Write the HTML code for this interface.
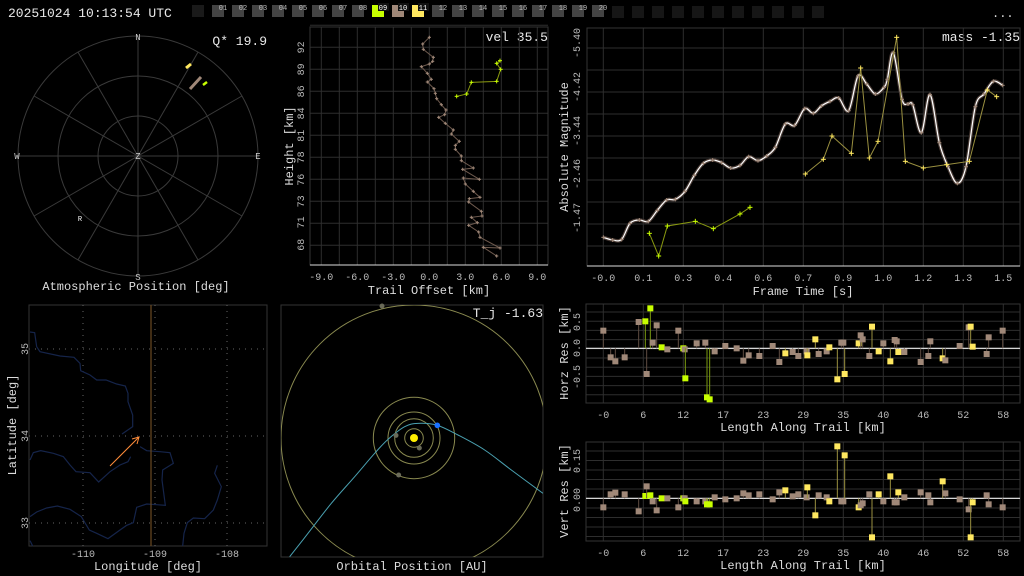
<!DOCTYPE html>
<html><head><meta charset="utf-8">
<style>
html,body{margin:0;padding:0;background:#000;width:1024px;height:576px;overflow:hidden}
svg{display:block}
text{font-family:"Liberation Mono","DejaVu Sans Mono",monospace}
</style></head>
<body>
<svg id="s" width="1024" height="576" viewBox="0 0 1024 576" xmlns="http://www.w3.org/2000/svg">
<rect width="1024" height="576" fill="#000"/>
<text x="8" y="17" font-size="13" fill="#e8e8e8">20251024 10:13:54 UTC</text>
<text x="992" y="17" font-size="12" fill="#ddd">...</text>
<text x="136" y="290" font-size="12" fill="#ddd" text-anchor="middle">Atmospheric Position [deg]</text>
<text x="267" y="45" font-size="13" fill="#e8e8e8" text-anchor="end">Q* 19.9</text>
<text x="548" y="41" font-size="13" fill="#e8e8e8" text-anchor="end">vel 35.5</text>
<text x="1020" y="41" font-size="13" fill="#e8e8e8" text-anchor="end">mass -1.35</text>
<text x="543" y="317" font-size="13" fill="#e8e8e8" text-anchor="end">T_j -1.63</text>
<text x="429" y="294" font-size="12" fill="#ddd" text-anchor="middle">Trail Offset [km]</text>
<text x="803" y="295" font-size="12" fill="#ddd" text-anchor="middle">Frame Time [s]</text>
<text x="148" y="570" font-size="12" fill="#ddd" text-anchor="middle">Longitude [deg]</text>
<text x="412" y="570" font-size="12" fill="#ddd" text-anchor="middle">Orbital Position [AU]</text>
<text x="803" y="431" font-size="12" fill="#ddd" text-anchor="middle">Length Along Trail [km]</text>
<text x="803" y="569" font-size="12" fill="#ddd" text-anchor="middle">Length Along Trail [km]</text>
<text transform="translate(293,146) rotate(-90)" font-size="12" fill="#ddd" text-anchor="middle">Height [km]</text>
<text transform="translate(568,147) rotate(-90)" font-size="12" fill="#ddd" text-anchor="middle">Absolute Magnitude</text>
<text transform="translate(16,425) rotate(-90)" font-size="12" fill="#ddd" text-anchor="middle">Latitude [deg]</text>
<text transform="translate(568,353) rotate(-90)" font-size="12" fill="#ddd" text-anchor="middle">Horz Res [km]</text>
<text transform="translate(568,491) rotate(-90)" font-size="12" fill="#ddd" text-anchor="middle">Vert Res [km]</text>
<g id="g"></g>
</svg>
<script>
var G=document.getElementById('g'),NS='http://www.w3.org/2000/svg';
function el(t,a,p){var e=document.createElementNS(NS,t);for(var k in a)e.setAttribute(k,a[k]);(p||G).appendChild(e);return e}
function L(x1,y1,x2,y2,c,w,d){var a={x1:x1,y1:y1,x2:x2,y2:y2,stroke:c,'stroke-width':w||1};if(d)a['stroke-dasharray']=d;return el('line',a)}
function T(x,y,s,sz,c,anc,rot){var a={x:x,y:y,'font-size':sz,fill:c,'text-anchor':anc||'middle'};if(rot)a.transform='rotate(-90 '+x+' '+y+')';var e=el('text',a);e.textContent=s;return e}
function R(x,y,w,h,c,st){var a={x:x,y:y,width:w,height:h,fill:c};if(st){a.stroke=st;a.fill='none'}return el('rect',a)}
function P(pts,c,w){return el('polyline',{points:pts.map(function(p){return p[0]+','+p[1]}).join(' '),fill:'none',stroke:c,'stroke-width':w||1})}
function S(pts,c,w){var d='M'+pts[0][0]+','+pts[0][1];for(var i=0;i<pts.length-1;i++){var p0=pts[i-1]||pts[i],p1=pts[i],p2=pts[i+1],p3=pts[i+2]||p2;
 d+=' C'+(p1[0]+(p2[0]-p0[0])/6)+','+(p1[1]+(p2[1]-p0[1])/6)+' '+(p2[0]-(p3[0]-p1[0])/6)+','+(p2[1]-(p3[1]-p1[1])/6)+' '+p2[0]+','+p2[1];}
 return el('path',{d:d,fill:'none',stroke:c,'stroke-width':w})}
function plus(x,y,c,s){s=s||2.5;L(x-s,y,x+s,y,c,1);L(x,y-s,x,y+s,c,1)}
function cv(a,ox,oy){return a.map(function(p){return [p[0]/3+ox,p[1]/3+oy]})}
R(192,5,12,12,'#1a1a1a');
for(var i=1;i<=20;i++){var x=192+20*i,c='#444';if(i==9)c='#c8ff00';if(i==10)c='#a08878';if(i==11)c='#ffe860';
 R(x,5,12,12,c);var t=(i<10?'0':'')+i;if(i>=9&&i<=11)R(x+6,3,11,8,'#111');T(x+11,10,t,7,i>=9&&i<=11?'#fff':'#bbb','middle');}
for(var i=0;i<11;i++)R(612+20*i,6,12,12,'#161616');
var cx=138,cy=156;
[40,80,120].forEach(function(r){el('circle',{cx:cx,cy:cy,r:r,fill:'none',stroke:'#3a3a3a'})});
for(var a=0;a<180;a+=30){var rad=a*Math.PI/180;L(cx+120*Math.sin(rad),cy-120*Math.cos(rad),cx-120*Math.sin(rad),cy+120*Math.cos(rad),'#3a3a3a')}
T(138,40,'N',9,'#ccc');T(138,280,'S',9,'#ccc');T(17,159,'W',9,'#ccc');T(258,159,'E',9,'#ccc');T(138,159,'Z',9,'#ccc');T(80,221,'R',7,'#fff');
L(186,68,191,64,'#ffe860',3);L(190,89,201,77,'#a08878',3);L(203,85,207,82,'#c8ff00',2.5);
var hx0=310,hx1=548,hy0=27,hy1=265;
for(var x=321.3;x<hx1;x+=18)L(x,hy0,x,hy1,'#2e2e2e');
for(var y=25.3;y<hy1;y+=22)L(hx0,y,hx1,y,'#2e2e2e');
R(hx0,hy0,hx1-hx0,hy1-hy0,'none','#333');L(hx0,hy1,hx1,hy1,'#ddd');
['-9.0','-6.0','-3.0','0.0','3.0','6.0','9.0'].forEach(function(s,i){T(321.3+36*i,280,s,10,'#bbb')});
[['92',47.3],['89',69.3],['86',91.3],['84',113.3],['81',135.7],['78',157.3],['76',179.7],['73',201.3],['71',222.3],['68',244.7]].forEach(function(p){T(304,p[1],p[0],10,'#bbb','middle',1)});
var br=cv([[448,52],[428,72],[430,88],[460,112],[458,124],[448,132],[424,140],[442,160],[454,178],[442,186],[462,206],[466,220],[470,236],[484,254],[498,270],[494,284],[476,292],[496,310],[520,330],[514,342],[538,364],[526,376],[526,388],[544,408],[544,422],[580,444],[548,448],[598,478],[550,474],[556,492],[580,514],[600,532],[568,536],[566,546],[604,574],[606,588],[574,592],[592,608],[566,616],[596,636],[600,652],[660,684],[610,682],[650,708]],280,20);
P(br,'#6e5a4e');br.forEach(function(p){plus(p[0],p[1],'#a08878',1.6)});
var gr=cv([[530,229],[560,222],[574,187],[650,184],[662,148],[650,130],[660,122]],280,20);
P(gr,'#8a9a10');gr.forEach(function(p){plus(p[0],p[1],'#c8ff00',2)});
var mx0=587,mx1=1020,my0=28,my1=266;
for(var i=0;i<11;i++)L(603.3+40*i,my0,603.3+40*i,my1,'#2e2e2e');
for(var y=48;y<my1;y+=22)L(mx0,y,mx1,y,'#2e2e2e');
R(mx0,my0,mx1-mx0,my1-my0,'none','#333');L(mx0,my1,mx1,my1,'#ddd');
['-0.0','0.1','0.3','0.4','0.6','0.7','0.9','1.0','1.2','1.3','1.5'].forEach(function(s,i){T(603.3+40*i,281,s,10,'#bbb')});
[['-5.40',43],['-4.42',87],['-3.44',131],['-2.46',174],['-1.47',218]].forEach(function(p){T(580,p[1],p[0],10,'#bbb','middle',1)});
var mg=cv([[130,652],[158,660],[185,658],[210,610],[238,600],[265,604],[292,571],[320,540],[346,538],[375,514],[403,466],[430,430],[458,420],[485,428],[512,444],[540,436],[566,410],[594,422],[620,408],[646,382],[676,312],[704,316],[734,266],[760,280],[784,258],[810,244],[836,234],[866,272],[894,168],[920,192],[946,222],[972,202],[982,178],[1000,98],[1026,238],[1044,252],[1058,254],[1084,338],[1110,224],[1138,368],[1164,440],[1192,490],[1218,440],[1246,260],[1272,222],[1300,184],[1328,196]],560,20);
S(mg,'#4a3c36',3.5);S(mg,'#fff',1.2);mg.forEach(function(p){plus(p[0],p[1],'#a08878',2)});
var m1=cv([[268,640],[296,708],[322,618],[406,604],[460,626],[540,582],[570,562]],560,20);
P(m1,'#8a9a10');m1.forEach(function(p){plus(p[0],p[1],'#c8ff00',2.5)});
var m2=cv([[736,462],[790,418],[816,348],[874,400],[902,144],[928,414],[954,364],[1010,52],[1036,424],[1090,444],[1160,434],[1228,424],[1282,210],[1310,230]],560,20);
P(m2,'#9a9040');m2.forEach(function(p){plus(p[0],p[1],'#ffe860',2.5)});
R(29,305,238,241,'none','#333');
[83,155,227].forEach(function(x){L(x,305,x,546,'#666',1,'1 5')});
[349,436,523].forEach(function(y){L(29,y,267,y,'#666',1,'1 5')});
T(83,557,'-110',10,'#bbb');T(155,557,'-109',10,'#bbb');T(227,557,'-108',10,'#bbb');
T(28,349,'35',10,'#bbb','middle',1);T(28,436,'34',10,'#bbb','middle',1);T(28,523,'33',10,'#bbb','middle',1);
var rv=[[[90,96],[104,98],[110,140],[120,155],[180,168],[222,172],[240,190],[242,212],[270,225],[290,240],[318,240],[350,252],[376,258],[384,280],[384,305],[398,345],[398,380],[366,402]],
[[90,480],[100,458],[122,452],[160,460],[190,470],[210,495],[228,515],[270,518],[296,546],[330,515],[360,495],[384,485],[392,470]],
[[420,440],[440,452],[480,455],[510,458],[520,490],[488,510],[486,540],[496,616],[470,614],[440,612],[410,622],[400,668],[380,676],[360,690],[324,716],[290,700],[268,690],[244,650],[210,628],[172,618],[140,624],[110,636],[90,650]],
[[652,496],[644,520],[664,560],[652,600],[640,630],[614,656],[580,654],[562,668],[552,700],[548,738]],[[90,722],[98,738]]];
rv.forEach(function(r){P(cv(r,0,300),'#15244a',1.2)});
L(151,305,151,546,'#6a4a22',1.2);
L(110,466,139,437,'#ff8c3a',1);P([[132,439],[139,437],[137,444]],'#ff8c3a',1);
R(281,305,262,252,'none','#333');
var cp=el('clipPath',{id:'oc'});el('rect',{x:281,y:305,width:262,height:252},cp);
var og=el('g',{'clip-path':'url(#oc)'});
function C(r){el('circle',{cx:414,cy:438,r:r,fill:'none',stroke:'#8a8a50','stroke-width':1},og)}
[9.3,19.3,26,40.7,133].forEach(C);
var tr=cv([[35,770],[90,700],[160,610],[230,530],[290,460],[330,418],[380,380],[420,370],[478,376],[540,405],[620,450],[700,510],[795,580]],278,300);
S(tr,'#4aa0b0',1).setAttribute('clip-path','url(#oc)');
el('circle',{cx:414,cy:438,r:4,fill:'#ffee00'});
[[424,444],[354,406],[362,525],[312,18]].forEach(function(p){el('circle',{cx:p[0]/3+278,cy:p[1]/3+300,r:2.5,fill:'#6a6a58'})});
el('circle',{cx:478/3+278,cy:376/3+300,r:2.8,fill:'#1a70ff'});
var cols={b:['#a08878','#5e4c42'],g:['#c8ff00','#7a9a10'],y:['#ffe860','#9a9040']};
function resPlot(top,bot,zero,gstep,gstart,pts){
 for(var i=0;i<11;i++)L(603.3+40*i,top,603.3+40*i,bot,'#2e2e2e');
 for(var y=gstart;y<bot;y+=gstep)L(586,y,1020,y,'#2e2e2e');
 R(586,top,434,bot-top,'none','#333');
 L(586,zero,1020,zero,'#eee',1.2);
 pts.forEach(function(p){var x=p[1]/3+550,y=p[2]/3+300,c=cols[p[0]];L(x,zero,x,y,c[1],1);R(x-3,y-3,6,6,c[0])});
}
var hp=[['b',160,92],['b',182,172],['b',196,184],['b',224,172],['b',266,66],['g',286,64],['b',290,222],['g',301,25],['b',308,128],['b',320,76],['g',335,142],['b',352,148],['b',385,92],['g',400,145],['b',404,148],['g',406,235],['b',440,130],['b',466,128],['g',471,292],['g',479,298],['b',494,154],['b',526,138],['b',560,145],['b',580,182],['b',596,166],['b',628,168],['b',668,138],['b',688,186],['y',706,160],['b',728,156],['b',745,168],['b',770,154],['y',772,166],['y',796,118],['b',806,162],['b',830,154],['y',838,142],['y',862,238],['b',874,128],['b',880,128],['y',884,222],['y',926,130],['b',932,106],['b',938,118],['y',966,80],['b',958,168],['y',986,154],['b',1000,130],['y',1021,184],['b',1034,120],['b',1040,124],['y',1045,156],['b',1063,156],['b',1112,186],['b',1135,168],['b',1141,124],['y',1178,175],['b',1186,181],['b',1229,138],['b',1256,82],['y',1262,80],['y',1268,140],['b',1310,162],['b',1316,112],['b',1358,92]];
resPlot(304,403,348.3,9.2,312,hp);
var vp=[['b',160,622],['b',182,583],['b',196,578],['b',224,583],['b',266,634],['g',286,588],['b',290,559],['g',301,586],['b',308,604],['b',320,631],['g',335,595],['b',352,595],['b',385,622],['g',400,595],['b',404,595],['g',406,604],['b',440,604],['b',466,604],['g',471,613],['g',479,613],['b',494,592],['b',526,598],['b',560,595],['b',580,580],['b',596,586],['b',628,583],['b',668,598],['b',688,577],['y',706,571],['b',728,589],['b',745,583],['b',770,592],['y',772,562],['y',796,646],['b',806,586],['b',830,592],['y',838,604],['y',862,439],['b',874,604],['b',880,604],['y',884,466],['y',926,622],['b',932,616],['b',938,610],['y',966,712],['b',958,583],['y',986,583],['b',1000,604],['y',1021,529],['b',1034,607],['b',1040,607],['y',1045,577],['b',1063,592],['b',1112,577],['b',1135,586],['b',1141,607],['y',1178,544],['b',1186,580],['b',1229,598],['b',1256,628],['y',1262,712],['y',1268,607],['b',1310,586],['b',1316,613],['b',1358,622]];
resPlot(442,541,498.3,9.5,451,vp);
['-0','6','12','17','23','29','35','40','46','52','58'].forEach(function(s,i){T(603.3+40*i,418,s,10,'#bbb');T(603.3+40*i,556,s,10,'#bbb')});
T(580,322,'0.5',10,'#bbb','middle',1);T(580,348,'0.0',10,'#bbb','middle',1);T(580,377,'-0.5',10,'#bbb','middle',1);
T(580,461,'0.15',10,'#bbb','middle',1);T(580,500,'0.00',10,'#bbb','middle',1);
</script>
</body></html>
